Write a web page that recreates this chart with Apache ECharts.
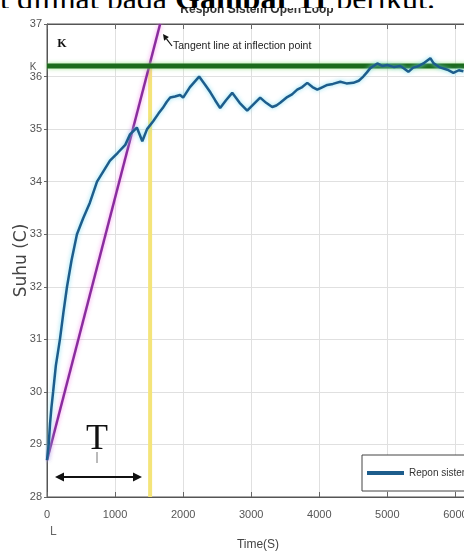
<!DOCTYPE html>
<html>
<head>
<meta charset="utf-8">
<script src="https://cdn.jsdelivr.net/npm/echarts@6/dist/echarts.min.js"></script>
<style>
  html, body { margin: 0; padding: 0; background: #fff; width: 464px; height: 560px; overflow: hidden; }
  #doc { position: absolute; left: 0; top: -18px; font: 32px/32px 'Liberation Serif', serif; white-space: nowrap; color: #000; z-index: 1; }
  #c { position: absolute; left: 0; top: 8px; width: 464px; height: 552px; background: #fff; z-index: 2; }
</style>
</head>
<body>
<div id="doc">t dilihat pada <b>Gambar 11</b> berikut.</div>
<div id="c"></div>
<script>
// ---- data ----
const timeS = [0,25,45,65,90,130,190,240,294,360,440,530,630,735,830,925,1040,1150,1220,1320,1400,1470,1560,1640,1700,1760,1810,1880,1955,2000,2100,2235,2320,2400,2470,2544,2630,2721,2830,2941,3040,3132,3220,3309,3370,3426,3529,3600,3676,3750,3824,3900,3971,4050,4118,4200,4309,4400,4500,4580,4647,4700,4750,4853,4930,5000,5100,5191,5250,5309,5380,5441,5530,5632,5676,5760,5882,5971,6050,6118];
const suhu = [28.7,29.0,29.4,29.7,30.0,30.5,31.0,31.5,32.0,32.5,33.0,33.3,33.6,34.0,34.2,34.4,34.55,34.7,34.9,35.03,34.77,35.0,35.15,35.3,35.4,35.52,35.6,35.62,35.65,35.6,35.8,36.0,35.85,35.7,35.55,35.4,35.55,35.69,35.5,35.35,35.48,35.6,35.5,35.42,35.45,35.5,35.61,35.66,35.75,35.8,35.88,35.8,35.75,35.8,35.84,35.86,35.9,35.87,35.88,35.92,36.0,36.08,36.16,36.25,36.2,36.22,36.18,36.2,36.15,36.09,36.17,36.19,36.25,36.35,36.26,36.18,36.13,36.07,36.12,36.1];
const kValue = 36.2;
const tangentT = [0, 1662];
const tangentV = [28.7, 37];
const inflectT = 1515;
const xRange = [0, 6200];
const yRange = [28, 37];
const seriesName = 'Repon sistem';
const titleText = 'Respon Sistem Open Loop';
const xName = 'Time(S)';
const yName = 'Suhu (C)';

const sans = "'Liberation Sans', Arial, sans-serif";

const chart = echarts.init(document.getElementById('c'), null, { renderer: 'canvas' });
const opt = {
  animation: false,
  backgroundColor: '#fff',
  grid: { left: 47, top: 16, width: 422, height: 473, show: true, borderColor: '#555', borderWidth: 1, backgroundColor: '#fff', outerBoundsMode: 'none', containLabel: false },
  legend: {
    data: [seriesName], left: 362, top: 447, orient: 'horizontal',
    padding: [13, 40, 13, 5], borderColor: '#444', borderWidth: 1, backgroundColor: '#fff',
    icon: 'rect', itemWidth: 37, itemHeight: 4,
    textStyle: { fontSize: 10, color: '#333', fontFamily: sans }
  },
  xAxis: [{
    type: 'value', min: xRange[0], max: xRange[1], interval: 1000,
    name: xName, nameLocation: 'middle', nameGap: 42,
    nameTextStyle: { fontSize: 12, color: '#444', fontFamily: sans },
    axisLine: { show: true, lineStyle: { color: '#555', width: 1 } },
    axisTick: { show: true, inside: true, length: 5, lineStyle: { color: '#666' } },
    axisLabel: { fontSize: 11, color: '#555', margin: 12, fontFamily: sans, showMaxLabel: false, formatter: v => String(v) },
    splitLine: { show: true, lineStyle: { color: '#e0e0e0', width: 1 } }
  }, {
    type: 'value', position: 'top', min: xRange[0], max: xRange[1], interval: 1000,
    axisLine: { show: true, lineStyle: { color: '#555', width: 1 } },
    axisTick: { show: true, inside: true, length: 5, lineStyle: { color: '#666' } },
    axisLabel: { show: false }, splitLine: { show: false }
  }],
  yAxis: {
    type: 'value', min: yRange[0], max: yRange[1], interval: 1,
    name: yName, nameLocation: 'middle', nameGap: 17, nameRotate: 90, nameMoveOverlap: false,
    nameTextStyle: { fontSize: 17, color: '#444', fontFamily: "'DejaVu Sans', sans-serif" },
    axisLine: { show: true, lineStyle: { color: '#555', width: 1 } },
    axisTick: { show: true, inside: false, length: 3, lineStyle: { color: '#666' } },
    axisLabel: { fontSize: 11, color: '#555', margin: 5, fontFamily: sans, formatter: v => String(v) },
    splitLine: { show: true, lineStyle: { color: '#e0e0e0', width: 1 } }
  },
  series: [
    {
      name: 'inflection', type: 'line', symbol: 'none', z: 2, silent: true,
      data: [[inflectT, yRange[0]], [inflectT, kValue]],
      lineStyle: { color: '#f4e47a', width: 4 }
    },
    {
      name: 'tangent', type: 'line', symbol: 'none', z: 3, silent: true,
      data: tangentT.map((t, i) => [t, tangentV[i]]),
      lineStyle: { color: '#8a2c9e', width: 2.5, shadowColor: 'rgba(245,140,235,0.9)', shadowBlur: 4 }
    },
    {
      name: 'K', type: 'line', symbol: 'none', z: 4, silent: true,
      data: [[xRange[0], kValue], [xRange[1], kValue]],
      lineStyle: { color: '#1c6a1c', width: 5, shadowColor: 'rgba(150,225,130,0.9)', shadowBlur: 4 }
    },
    {
      name: seriesName, type: 'line', symbol: 'none', z: 5,
      data: timeS.map((t, i) => [t, suhu[i]]),
      itemStyle: { color: '#1d5d8c' },
      lineStyle: { color: '#1d5d8c', width: 2.5, shadowColor: 'rgba(120,220,240,0.9)', shadowBlur: 4 }
    }
  ],
  graphic: [
    { type: 'text', x: 257, y: 1.8, z: 100, style: { text: titleText, font: "bold 12px 'Liberation Sans', sans-serif", fill: '#333', textAlign: 'center', textVerticalAlign: 'middle' } },
    { type: 'text', x: 62, y: 36, z: 100, style: { text: 'K', font: "bold 12px 'Liberation Serif', serif", fill: '#111', textAlign: 'center', textVerticalAlign: 'middle' } },
    { type: 'text', x: 33, y: 59, z: 100, style: { text: 'K', font: "10px " + sans, fill: '#555', textAlign: 'center', textVerticalAlign: 'middle' } },
    { type: 'line', z: 100, shape: { x1: 166.5, y1: 30.9, x2: 172, y2: 38 }, style: { stroke: '#111', lineWidth: 1.2 } },
    { type: 'polygon', z: 100, shape: { points: [[163, 26], [168.9, 29.1], [164.1, 32.7]] }, style: { fill: '#111' } },
    { type: 'text', x: 173, y: 38, z: 100, style: { text: 'Tangent line at inflection point', font: "10.5px " + sans, fill: '#222', textVerticalAlign: 'middle' } },
    { type: 'text', x: 97, y: 432, z: 100, style: { text: 'T', font: "36px 'Liberation Serif', serif", fill: '#111', textAlign: 'center', textVerticalAlign: 'middle' } },
    { type: 'line', z: 100, shape: { x1: 97, y1: 444, x2: 97, y2: 455 }, style: { stroke: '#777', lineWidth: 1 } },
    { type: 'line', z: 100, shape: { x1: 62, y1: 469, x2: 135, y2: 469 }, style: { stroke: '#111', lineWidth: 2 } },
    { type: 'polygon', z: 100, shape: { points: [[55, 469], [64, 464.5], [64, 473.5]] }, style: { fill: '#111' } },
    { type: 'polygon', z: 100, shape: { points: [[142, 469], [133, 464.5], [133, 473.5]] }, style: { fill: '#111' } },
    { type: 'text', x: 50, y: 524, z: 100, style: { text: 'L', font: "12px " + sans, fill: '#666', textVerticalAlign: 'middle' } }
  ]
};
chart.setOption(opt);
</script>
</body>
</html>
